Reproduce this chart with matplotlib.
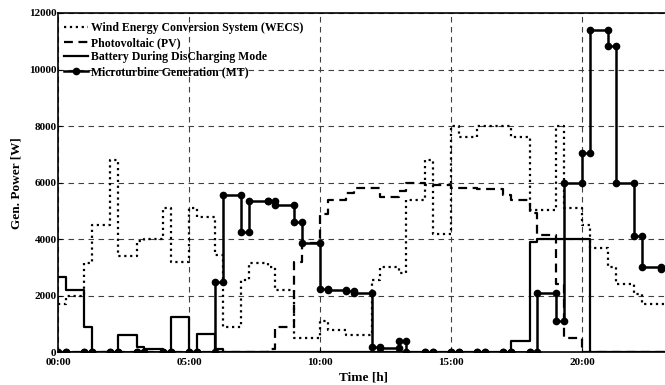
import matplotlib
matplotlib.use("Agg")
import matplotlib.pyplot as plt
import numpy as np

plt.rcParams['font.family'] = ['Liberation Serif', 'DejaVu Serif']
plt.rcParams['font.weight'] = 'bold'

# half-hourly samples, time written as h.mm (x.3 = half past)
times = [0.0, 0.3, 1.0, 1.3, 2.0, 2.3, 3.0, 3.3, 4.0, 4.3, 5.0, 5.3,
         6.0, 6.3, 7.0, 7.3, 8.0, 8.3, 9.0, 9.3, 10.0, 10.3, 11.0, 11.3,
         12.0, 12.3, 13.0, 13.3, 14.0, 14.3, 15.0, 15.3, 16.0, 16.3, 17.0, 17.3,
         18.0, 18.3, 19.0, 19.3, 20.0, 20.3, 21.0, 21.3, 22.0, 22.3, 23.0, 23.3]

wecs = [1700, 2000, 3150, 4500, 6800, 3400, 3950, 4000, 5100, 3200, 5100, 4800,
        3450, 900, 2550, 3150, 3000, 2200, 500, 500, 1100, 800, 600, 600,
        2550, 3000, 2800, 5400, 6800, 4200, 8000, 7600, 8000, 8000, 8000, 7600,
        5050, 5050, 8000, 5100, 4500, 3700, 3000, 2400, 2050, 1700, 1700, 1700]

pv = [0, 0, 0, 0, 0, 0, 0, 0, 0, 0, 0, 0,
      0, 0, 0, 0, 100, 900, 3200, 3880, 4900, 5400, 5650, 5800,
      5800, 5500, 5700, 5970, 5920, 5920, 5820, 5820, 5760, 5760, 5560, 5390,
      4910, 4150, 2400, 500, 0, 0, 0, 0, 0, 0, 0, 0]

battery = [2650, 2200, 900, 0, 0, 600, 200, 100, 0, 1250, 0, 650,
           100, 0, 0, 0, 0, 0, 0, 0, 0, 0, 0, 0,
           0, 0, 0, 0, 0, 0, 0, 0, 0, 0, 0, 400,
           3900, 4000, 4000, 4000, 4000, 0, 0, 0, 0, 0, 0, 0]

mt = [0, 0, 0, 0, 0, 0, 0, 0, 0, 0, 0, 0,
      2500, 5550, 4270, 5350, 5350, 5200, 4600, 3880, 2250, 2200, 2180, 2100,
      200, 150, 400, 0, 0, 0, 0, 0, 0, 0, 0, 0,
      0, 2100, 1100, 6000, 7050, 11400, 10850, 6000, 4100, 3000, 2950, 2950]

tick_pos = [0, 5, 10, 15, 20]
tick_lab = ['00:00', '05:00', '10:00', '15:00', '20:00']

fig = plt.figure(figsize=(6.65, 3.85), dpi=100)
ax = fig.add_axes([58 / 665, 1 - 352.3 / 385, (668.5 - 58) / 665, (352.3 - 13) / 385])

t = np.array(times)
ax.step(t, wecs, where='post', color='black', lw=1.6, ls=':',
        label='Wind Energy Conversion System (WECS)')
ax.step(t, pv, where='post', color='black', lw=1.6, dashes=(4, 2.5),
        label='Photovoltaic (PV)')
ax.step(t, battery, where='post', color='black', lw=1.6,
        label='Battery During DisCharging Mode')

# stair vertices so every corner gets a marker
mx = np.repeat(t, 2)[1:]
my = np.repeat(np.array(mt), 2)[:-1]
ax.plot(mx, my, color='black', lw=1.8, marker='o', markersize=4.5,
        label='Microturbine Generation (MT)')

ax.set_xlim(0, 23.3)
ax.set_ylim(0, 12000)
ax.set_xticks(tick_pos)
ax.set_xticklabels(tick_lab)
ax.set_yticks(np.arange(0, 12001, 2000))
ax.tick_params(direction='in', labelsize=8, length=3)
ax.tick_params(axis='x', pad=4)
ax.tick_params(axis='y', pad=1)
for lab in ax.get_xticklabels() + ax.get_yticklabels():
    lab.set_fontweight('bold')

ax.grid(True, color='0.25', lw=0.8, dashes=(5, 4))
for s in ax.spines.values():
    s.set_linewidth(1.2)

ax.set_xlabel('Time [h]', fontsize=9.5, fontweight='bold', labelpad=3)
ax.set_ylabel('Gen. Power [W]', fontsize=9.5, fontweight='bold', labelpad=5)

leg = ax.legend(loc='upper left', bbox_to_anchor=(0.0, 0.99), frameon=False,
                fontsize=8.5, handlelength=2.0, handletextpad=0.3,
                labelspacing=0.22, borderaxespad=0.2, borderpad=0.3)
for txt in leg.get_texts():
    txt.set_fontweight('bold')

fig.savefig('out.png', dpi=100)
